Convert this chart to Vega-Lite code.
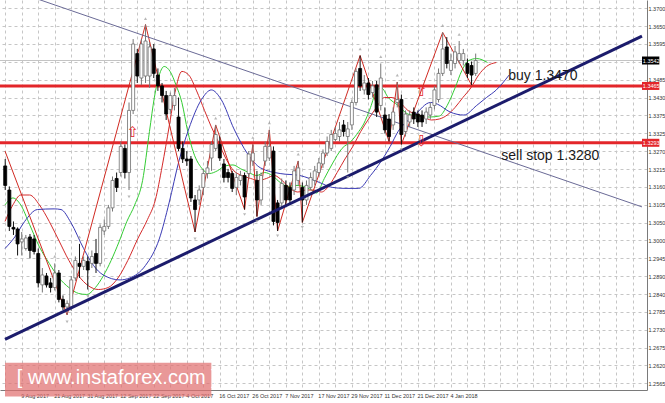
{
  "$schema": "https://vega.github.io/schema/vega-lite/v6.json",
  "width": 647,
  "height": 390,
  "autosize": {"type": "none"},
  "padding": {"left": 0, "top": 0, "right": 18, "bottom": 13},
  "background": "#ffffff",
  "datasets": {
    "bars": [
      {"i": -4, "o": 1.3223, "h": 1.3244, "l": 1.3150, "c": 1.3164},
      {"i": -3, "o": 1.3150, "h": 1.3161, "l": 1.3026, "c": 1.3040},
      {"i": -2, "o": 1.3037, "h": 1.3055, "l": 1.3014, "c": 1.3032},
      {"i": -1, "o": 1.3032, "h": 1.3037, "l": 1.2952, "c": 1.2987},
      {"i": 0, "o": 1.2993, "h": 1.3023, "l": 1.2952, "c": 1.3002},
      {"i": 1, "o": 1.2973, "h": 1.3014, "l": 1.2967, "c": 1.3005},
      {"i": 2, "o": 1.3008, "h": 1.3017, "l": 1.2943, "c": 1.2967},
      {"i": 3, "o": 1.3002, "h": 1.3014, "l": 1.2955, "c": 1.2964},
      {"i": 4, "o": 1.2958, "h": 1.2973, "l": 1.2855, "c": 1.2869},
      {"i": 5, "o": 1.2863, "h": 1.2914, "l": 1.2840, "c": 1.2893},
      {"i": 6, "o": 1.2890, "h": 1.2899, "l": 1.2855, "c": 1.2863},
      {"i": 7, "o": 1.2869, "h": 1.2884, "l": 1.2840, "c": 1.2855},
      {"i": 8, "o": 1.2855, "h": 1.2928, "l": 1.2846, "c": 1.2899},
      {"i": 9, "o": 1.2899, "h": 1.2908, "l": 1.2810, "c": 1.2819},
      {"i": 10, "o": 1.2819, "h": 1.2831, "l": 1.2787, "c": 1.2796},
      {"i": 11, "o": 1.2796, "h": 1.2816, "l": 1.2772, "c": 1.2807},
      {"i": 12, "o": 1.2796, "h": 1.2890, "l": 1.2784, "c": 1.2878},
      {"i": 13, "o": 1.2884, "h": 1.2949, "l": 1.2875, "c": 1.2937},
      {"i": 14, "o": 1.2928, "h": 1.2987, "l": 1.2884, "c": 1.2919},
      {"i": 15, "o": 1.2919, "h": 1.2949, "l": 1.2908, "c": 1.2937},
      {"i": 16, "o": 1.2934, "h": 1.2949, "l": 1.2849, "c": 1.2908},
      {"i": 17, "o": 1.2928, "h": 1.2967, "l": 1.2914, "c": 1.2949},
      {"i": 18, "o": 1.2958, "h": 1.3002, "l": 1.2899, "c": 1.2928},
      {"i": 19, "o": 1.2928, "h": 1.3046, "l": 1.2919, "c": 1.3037},
      {"i": 20, "o": 1.3026, "h": 1.3061, "l": 1.3014, "c": 1.3040},
      {"i": 21, "o": 1.3040, "h": 1.3105, "l": 1.3032, "c": 1.3096},
      {"i": 22, "o": 1.3096, "h": 1.3191, "l": 1.3085, "c": 1.3179},
      {"i": 23, "o": 1.3185, "h": 1.3203, "l": 1.3144, "c": 1.3158},
      {"i": 24, "o": 1.3203, "h": 1.3297, "l": 1.3191, "c": 1.3282},
      {"i": 25, "o": 1.3276, "h": 1.3288, "l": 1.3185, "c": 1.3203},
      {"i": 26, "o": 1.3203, "h": 1.3415, "l": 1.3150, "c": 1.3391},
      {"i": 27, "o": 1.3391, "h": 1.3607, "l": 1.3380, "c": 1.3592},
      {"i": 28, "o": 1.3563, "h": 1.3577, "l": 1.3474, "c": 1.3495},
      {"i": 29, "o": 1.3489, "h": 1.3607, "l": 1.3468, "c": 1.3592},
      {"i": 30, "o": 1.3495, "h": 1.3651, "l": 1.3474, "c": 1.3601},
      {"i": 31, "o": 1.3495, "h": 1.3598, "l": 1.3459, "c": 1.3583},
      {"i": 32, "o": 1.3577, "h": 1.3592, "l": 1.3489, "c": 1.3503},
      {"i": 33, "o": 1.3498, "h": 1.3518, "l": 1.3450, "c": 1.3465},
      {"i": 34, "o": 1.3465, "h": 1.3474, "l": 1.3415, "c": 1.3436},
      {"i": 35, "o": 1.3436, "h": 1.3450, "l": 1.3362, "c": 1.3380},
      {"i": 36, "o": 1.3394, "h": 1.3445, "l": 1.3380, "c": 1.3436},
      {"i": 37, "o": 1.3406, "h": 1.3459, "l": 1.3391, "c": 1.3436},
      {"i": 38, "o": 1.3371, "h": 1.3430, "l": 1.3268, "c": 1.3276},
      {"i": 39, "o": 1.3276, "h": 1.3297, "l": 1.3232, "c": 1.3244},
      {"i": 40, "o": 1.3244, "h": 1.3268, "l": 1.3223, "c": 1.3238},
      {"i": 41, "o": 1.3244, "h": 1.3253, "l": 1.3114, "c": 1.3126},
      {"i": 42, "o": 1.3120, "h": 1.3135, "l": 1.3023, "c": 1.3091},
      {"i": 43, "o": 1.3120, "h": 1.3164, "l": 1.3105, "c": 1.3150},
      {"i": 44, "o": 1.3158, "h": 1.3214, "l": 1.3135, "c": 1.3200},
      {"i": 45, "o": 1.3200, "h": 1.3238, "l": 1.3185, "c": 1.3217},
      {"i": 46, "o": 1.3247, "h": 1.3297, "l": 1.3208, "c": 1.3288},
      {"i": 47, "o": 1.3276, "h": 1.3347, "l": 1.3268, "c": 1.3318},
      {"i": 48, "o": 1.3288, "h": 1.3312, "l": 1.3238, "c": 1.3247},
      {"i": 49, "o": 1.3229, "h": 1.3244, "l": 1.3173, "c": 1.3188},
      {"i": 50, "o": 1.3203, "h": 1.3214, "l": 1.3173, "c": 1.3188},
      {"i": 51, "o": 1.3200, "h": 1.3208, "l": 1.3144, "c": 1.3155},
      {"i": 52, "o": 1.3158, "h": 1.3203, "l": 1.3135, "c": 1.3188},
      {"i": 53, "o": 1.3179, "h": 1.3208, "l": 1.3164, "c": 1.3194},
      {"i": 54, "o": 1.3194, "h": 1.3203, "l": 1.3091, "c": 1.3129},
      {"i": 55, "o": 1.3200, "h": 1.3268, "l": 1.3185, "c": 1.3259},
      {"i": 56, "o": 1.3238, "h": 1.3288, "l": 1.3223, "c": 1.3262},
      {"i": 57, "o": 1.3179, "h": 1.3208, "l": 1.3070, "c": 1.3120},
      {"i": 58, "o": 1.3120, "h": 1.3203, "l": 1.3105, "c": 1.3194},
      {"i": 59, "o": 1.3238, "h": 1.3297, "l": 1.3223, "c": 1.3282},
      {"i": 60, "o": 1.3247, "h": 1.3332, "l": 1.3238, "c": 1.3282},
      {"i": 61, "o": 1.3268, "h": 1.3282, "l": 1.3043, "c": 1.3055},
      {"i": 62, "o": 1.3111, "h": 1.3120, "l": 1.3026, "c": 1.3052},
      {"i": 63, "o": 1.3111, "h": 1.3185, "l": 1.3096, "c": 1.3170},
      {"i": 64, "o": 1.3164, "h": 1.3179, "l": 1.3105, "c": 1.3120},
      {"i": 65, "o": 1.3158, "h": 1.3173, "l": 1.3105, "c": 1.3120},
      {"i": 66, "o": 1.3150, "h": 1.3223, "l": 1.3135, "c": 1.3208},
      {"i": 67, "o": 1.3179, "h": 1.3238, "l": 1.3164, "c": 1.3217},
      {"i": 68, "o": 1.3158, "h": 1.3173, "l": 1.3052, "c": 1.3120},
      {"i": 69, "o": 1.3120, "h": 1.3179, "l": 1.3105, "c": 1.3164},
      {"i": 70, "o": 1.3158, "h": 1.3203, "l": 1.3150, "c": 1.3188},
      {"i": 71, "o": 1.3179, "h": 1.3223, "l": 1.3164, "c": 1.3208},
      {"i": 72, "o": 1.3203, "h": 1.3247, "l": 1.3194, "c": 1.3232},
      {"i": 73, "o": 1.3229, "h": 1.3273, "l": 1.3217, "c": 1.3262},
      {"i": 74, "o": 1.3262, "h": 1.3312, "l": 1.3253, "c": 1.3297},
      {"i": 75, "o": 1.3276, "h": 1.3332, "l": 1.3268, "c": 1.3318},
      {"i": 76, "o": 1.3303, "h": 1.3341, "l": 1.3297, "c": 1.3321},
      {"i": 77, "o": 1.3312, "h": 1.3356, "l": 1.3297, "c": 1.3332},
      {"i": 78, "o": 1.3347, "h": 1.3362, "l": 1.3312, "c": 1.3327},
      {"i": 79, "o": 1.3312, "h": 1.3356, "l": 1.3203, "c": 1.3335},
      {"i": 80, "o": 1.3347, "h": 1.3424, "l": 1.3332, "c": 1.3415},
      {"i": 81, "o": 1.3415, "h": 1.3518, "l": 1.3406, "c": 1.3509},
      {"i": 82, "o": 1.3518, "h": 1.3557, "l": 1.3450, "c": 1.3465},
      {"i": 83, "o": 1.3453, "h": 1.3498, "l": 1.3439, "c": 1.3474},
      {"i": 84, "o": 1.3474, "h": 1.3489, "l": 1.3424, "c": 1.3439},
      {"i": 85, "o": 1.3445, "h": 1.3480, "l": 1.3430, "c": 1.3465},
      {"i": 86, "o": 1.3468, "h": 1.3480, "l": 1.3371, "c": 1.3386},
      {"i": 87, "o": 1.3406, "h": 1.3533, "l": 1.3391, "c": 1.3489},
      {"i": 88, "o": 1.3377, "h": 1.3400, "l": 1.3321, "c": 1.3332},
      {"i": 89, "o": 1.3365, "h": 1.3380, "l": 1.3297, "c": 1.3312},
      {"i": 90, "o": 1.3347, "h": 1.3400, "l": 1.3332, "c": 1.3386},
      {"i": 91, "o": 1.3415, "h": 1.3477, "l": 1.3400, "c": 1.3424},
      {"i": 92, "o": 1.3424, "h": 1.3439, "l": 1.3288, "c": 1.3318},
      {"i": 93, "o": 1.3327, "h": 1.3391, "l": 1.3312, "c": 1.3380},
      {"i": 94, "o": 1.3356, "h": 1.3391, "l": 1.3341, "c": 1.3377},
      {"i": 95, "o": 1.3386, "h": 1.3400, "l": 1.3350, "c": 1.3365},
      {"i": 96, "o": 1.3380, "h": 1.3391, "l": 1.3341, "c": 1.3356},
      {"i": 97, "o": 1.3377, "h": 1.3391, "l": 1.3341, "c": 1.3356},
      {"i": 98, "o": 1.3365, "h": 1.3400, "l": 1.3350, "c": 1.3386},
      {"i": 99, "o": 1.3377, "h": 1.3415, "l": 1.3365, "c": 1.3400},
      {"i": 100, "o": 1.3406, "h": 1.3465, "l": 1.3394, "c": 1.3453},
      {"i": 101, "o": 1.3424, "h": 1.3518, "l": 1.3415, "c": 1.3503},
      {"i": 102, "o": 1.3503, "h": 1.3627, "l": 1.3495, "c": 1.3577},
      {"i": 103, "o": 1.3583, "h": 1.3613, "l": 1.3518, "c": 1.3533},
      {"i": 104, "o": 1.3512, "h": 1.3563, "l": 1.3498, "c": 1.3542},
      {"i": 105, "o": 1.3533, "h": 1.3586, "l": 1.3518, "c": 1.3568},
      {"i": 106, "o": 1.3542, "h": 1.3601, "l": 1.3533, "c": 1.3563},
      {"i": 107, "o": 1.3542, "h": 1.3577, "l": 1.3527, "c": 1.3563},
      {"i": 108, "o": 1.3533, "h": 1.3548, "l": 1.3489, "c": 1.3503},
      {"i": 109, "o": 1.3527, "h": 1.3539, "l": 1.3468, "c": 1.3498},
      {"i": 110, "o": 1.3503, "h": 1.3563, "l": 1.3495, "c": 1.3542}
    ],
    "ind": [
      {"line": "lips", "i": -4.05, "p": 1.3105}, {"line": "lips", "i": -2.14, "p": 1.3126}, {"line": "lips", "i": -0.24, "p": 1.3105},
      {"line": "lips", "i": 1.9, "p": 1.3046}, {"line": "lips", "i": 4.29, "p": 1.2978}, {"line": "lips", "i": 6.67, "p": 1.2928},
      {"line": "lips", "i": 9.05, "p": 1.2884}, {"line": "lips", "i": 11.43, "p": 1.2855}, {"line": "lips", "i": 13.81, "p": 1.2837},
      {"line": "lips", "i": 15.71, "p": 1.2834}, {"line": "lips", "i": 17.86, "p": 1.2855}, {"line": "lips", "i": 19.76, "p": 1.289},
      {"line": "lips", "i": 21.67, "p": 1.2937}, {"line": "lips", "i": 23.57, "p": 1.2993}, {"line": "lips", "i": 25.48, "p": 1.3055},
      {"line": "lips", "i": 27.38, "p": 1.3105}, {"line": "lips", "i": 29.29, "p": 1.3179}, {"line": "lips", "i": 30.95, "p": 1.3327},
      {"line": "lips", "i": 32.14, "p": 1.343}, {"line": "lips", "i": 33.33, "p": 1.3498}, {"line": "lips", "i": 34.52, "p": 1.3524},
      {"line": "lips", "i": 35.95, "p": 1.3509}, {"line": "lips", "i": 37.38, "p": 1.3468}, {"line": "lips", "i": 38.81, "p": 1.3415},
      {"line": "lips", "i": 40.24, "p": 1.3327}, {"line": "lips", "i": 41.67, "p": 1.3262}, {"line": "lips", "i": 43.57, "p": 1.3217},
      {"line": "lips", "i": 45.48, "p": 1.32}, {"line": "lips", "i": 47.38, "p": 1.3208}, {"line": "lips", "i": 49.29, "p": 1.3223},
      {"line": "lips", "i": 51.19, "p": 1.3226}, {"line": "lips", "i": 53.1, "p": 1.3214}, {"line": "lips", "i": 55.0, "p": 1.3203},
      {"line": "lips", "i": 56.9, "p": 1.3194}, {"line": "lips", "i": 58.81, "p": 1.3203}, {"line": "lips", "i": 60.71, "p": 1.3194},
      {"line": "lips", "i": 62.62, "p": 1.3173}, {"line": "lips", "i": 64.52, "p": 1.3161}, {"line": "lips", "i": 66.43, "p": 1.3164},
      {"line": "lips", "i": 68.33, "p": 1.3161}, {"line": "lips", "i": 70.24, "p": 1.315}, {"line": "lips", "i": 71.43, "p": 1.3141},
      {"line": "lips", "i": 73.33, "p": 1.3185}, {"line": "lips", "i": 75.24, "p": 1.3229}, {"line": "lips", "i": 77.62, "p": 1.3276},
      {"line": "lips", "i": 79.76, "p": 1.3297}, {"line": "lips", "i": 81.67, "p": 1.3327}, {"line": "lips", "i": 82.86, "p": 1.335},
      {"line": "lips", "i": 84.52, "p": 1.34}, {"line": "lips", "i": 85.95, "p": 1.345}, {"line": "lips", "i": 87.14, "p": 1.3459},
      {"line": "lips", "i": 88.81, "p": 1.343}, {"line": "lips", "i": 91.19, "p": 1.3406}, {"line": "lips", "i": 93.57, "p": 1.338},
      {"line": "lips", "i": 95.95, "p": 1.3374}, {"line": "lips", "i": 98.81, "p": 1.3371}, {"line": "lips", "i": 101.19, "p": 1.3374},
      {"line": "lips", "i": 103.1, "p": 1.3406}, {"line": "lips", "i": 105.0, "p": 1.3459}, {"line": "lips", "i": 106.67, "p": 1.3512},
      {"line": "lips", "i": 108.33, "p": 1.3542}, {"line": "lips", "i": 110.24, "p": 1.3548}, {"line": "lips", "i": 112.86, "p": 1.3536},
      {"line": "teeth", "i": -4.05, "p": 1.3055}, {"line": "teeth", "i": -2.14, "p": 1.3105}, {"line": "teeth", "i": -0.24, "p": 1.3135},
      {"line": "teeth", "i": 1.9, "p": 1.3135}, {"line": "teeth", "i": 4.29, "p": 1.3105}, {"line": "teeth", "i": 6.67, "p": 1.3055},
      {"line": "teeth", "i": 9.05, "p": 1.2996}, {"line": "teeth", "i": 11.43, "p": 1.2937}, {"line": "teeth", "i": 13.81, "p": 1.289},
      {"line": "teeth", "i": 16.19, "p": 1.286}, {"line": "teeth", "i": 18.57, "p": 1.2849}, {"line": "teeth", "i": 20.95, "p": 1.2855},
      {"line": "teeth", "i": 23.33, "p": 1.2884}, {"line": "teeth", "i": 25.71, "p": 1.2937}, {"line": "teeth", "i": 28.1, "p": 1.3002},
      {"line": "teeth", "i": 30.48, "p": 1.3061}, {"line": "teeth", "i": 32.38, "p": 1.312}, {"line": "teeth", "i": 34.05, "p": 1.3223},
      {"line": "teeth", "i": 35.71, "p": 1.3341}, {"line": "teeth", "i": 37.14, "p": 1.3445}, {"line": "teeth", "i": 38.81, "p": 1.3509},
      {"line": "teeth", "i": 40.48, "p": 1.3498}, {"line": "teeth", "i": 42.38, "p": 1.345}, {"line": "teeth", "i": 44.29, "p": 1.3391},
      {"line": "teeth", "i": 45.95, "p": 1.3341}, {"line": "teeth", "i": 47.62, "p": 1.3297}, {"line": "teeth", "i": 49.52, "p": 1.3244},
      {"line": "teeth", "i": 51.43, "p": 1.3208}, {"line": "teeth", "i": 53.33, "p": 1.3194}, {"line": "teeth", "i": 55.48, "p": 1.3185},
      {"line": "teeth", "i": 57.38, "p": 1.3179}, {"line": "teeth", "i": 59.29, "p": 1.3185}, {"line": "teeth", "i": 61.19, "p": 1.3194},
      {"line": "teeth", "i": 63.1, "p": 1.3179}, {"line": "teeth", "i": 65.0, "p": 1.3155}, {"line": "teeth", "i": 66.9, "p": 1.3144},
      {"line": "teeth", "i": 68.81, "p": 1.315}, {"line": "teeth", "i": 70.71, "p": 1.315}, {"line": "teeth", "i": 72.62, "p": 1.3144},
      {"line": "teeth", "i": 74.52, "p": 1.3164}, {"line": "teeth", "i": 76.43, "p": 1.3203}, {"line": "teeth", "i": 78.33, "p": 1.3244},
      {"line": "teeth", "i": 80.24, "p": 1.3282}, {"line": "teeth", "i": 82.14, "p": 1.3327}, {"line": "teeth", "i": 84.05, "p": 1.3365},
      {"line": "teeth", "i": 85.95, "p": 1.34}, {"line": "teeth", "i": 87.86, "p": 1.343}, {"line": "teeth", "i": 89.76, "p": 1.343},
      {"line": "teeth", "i": 91.67, "p": 1.3415}, {"line": "teeth", "i": 93.57, "p": 1.3391}, {"line": "teeth", "i": 95.48, "p": 1.338},
      {"line": "teeth", "i": 97.38, "p": 1.3371}, {"line": "teeth", "i": 99.29, "p": 1.3362}, {"line": "teeth", "i": 101.19, "p": 1.3365},
      {"line": "teeth", "i": 103.1, "p": 1.3377}, {"line": "teeth", "i": 105.0, "p": 1.34}, {"line": "teeth", "i": 106.9, "p": 1.343},
      {"line": "teeth", "i": 108.81, "p": 1.3459}, {"line": "teeth", "i": 110.71, "p": 1.3498}, {"line": "teeth", "i": 112.62, "p": 1.3524},
      {"line": "teeth", "i": 115.0, "p": 1.3536},
      {"line": "jaw", "i": -4.05, "p": 1.2973}, {"line": "jaw", "i": -1.67, "p": 1.3008}, {"line": "jaw", "i": 0.71, "p": 1.3055},
      {"line": "jaw", "i": 3.81, "p": 1.3091}, {"line": "jaw", "i": 7.86, "p": 1.3093}, {"line": "jaw", "i": 9.52, "p": 1.3091},
      {"line": "jaw", "i": 11.9, "p": 1.3052}, {"line": "jaw", "i": 15.0, "p": 1.2973}, {"line": "jaw", "i": 17.38, "p": 1.2922},
      {"line": "jaw", "i": 19.76, "p": 1.2893}, {"line": "jaw", "i": 23.81, "p": 1.2878}, {"line": "jaw", "i": 26.19, "p": 1.2884},
      {"line": "jaw", "i": 30.0, "p": 1.2922}, {"line": "jaw", "i": 33.33, "p": 1.3002}, {"line": "jaw", "i": 35.71, "p": 1.3111},
      {"line": "jaw", "i": 38.1, "p": 1.3238}, {"line": "jaw", "i": 40.48, "p": 1.3335}, {"line": "jaw", "i": 43.57, "p": 1.3424},
      {"line": "jaw", "i": 45.95, "p": 1.3453}, {"line": "jaw", "i": 48.33, "p": 1.3424}, {"line": "jaw", "i": 51.43, "p": 1.3335},
      {"line": "jaw", "i": 54.76, "p": 1.3259}, {"line": "jaw", "i": 57.86, "p": 1.3217}, {"line": "jaw", "i": 62.62, "p": 1.32},
      {"line": "jaw", "i": 67.38, "p": 1.3194}, {"line": "jaw", "i": 72.14, "p": 1.3173}, {"line": "jaw", "i": 75.24, "p": 1.3158},
      {"line": "jaw", "i": 78.33, "p": 1.3155}, {"line": "jaw", "i": 81.67, "p": 1.3155}, {"line": "jaw", "i": 84.52, "p": 1.3194},
      {"line": "jaw", "i": 87.14, "p": 1.3238}, {"line": "jaw", "i": 89.29, "p": 1.3282}, {"line": "jaw", "i": 91.19, "p": 1.3327},
      {"line": "jaw", "i": 95.24, "p": 1.3377}, {"line": "jaw", "i": 99.05, "p": 1.3415}, {"line": "jaw", "i": 100.71, "p": 1.341},
      {"line": "jaw", "i": 103.81, "p": 1.3386}, {"line": "jaw", "i": 107.14, "p": 1.3377}, {"line": "jaw", "i": 110.24, "p": 1.3406},
      {"line": "jaw", "i": 112.62, "p": 1.343}, {"line": "jaw", "i": 115.0, "p": 1.3453}, {"line": "jaw", "i": 118.1, "p": 1.3498}
    ],
    "zigzag": [
      {"i": -4.05, "p": 1.3268}, {"i": 11, "p": 1.2772}, {"i": 30, "p": 1.3651},
      {"i": 42, "p": 1.3023}, {"i": 47, "p": 1.3347}, {"i": 54, "p": 1.3091},
      {"i": 56, "p": 1.3288}, {"i": 57, "p": 1.307}, {"i": 60, "p": 1.3332},
      {"i": 62, "p": 1.3026}, {"i": 67, "p": 1.3238}, {"i": 68, "p": 1.3052},
      {"i": 82, "p": 1.3557}, {"i": 89, "p": 1.3297}, {"i": 91, "p": 1.3477},
      {"i": 92, "p": 1.3288}, {"i": 102, "p": 1.3627}, {"i": 109, "p": 1.3468}
    ],
    "fractals": [
      {"i": 8, "p": 1.2949, "t": "up"}, {"i": 14, "p": 1.3008, "t": "up"}, {"i": 30, "p": 1.3669, "t": "up"},
      {"i": 47, "p": 1.3368, "t": "up"}, {"i": 56, "p": 1.3309, "t": "up"}, {"i": 60, "p": 1.3353, "t": "up"},
      {"i": 67, "p": 1.3259, "t": "up"}, {"i": 82, "p": 1.3577, "t": "up"}, {"i": 87, "p": 1.3554, "t": "up"},
      {"i": 91, "p": 1.3498, "t": "up"}, {"i": 102, "p": 1.3648, "t": "up"}, {"i": 106, "p": 1.3621, "t": "up"},
      {"i": 11, "p": 1.2751, "t": "down"}, {"i": 16, "p": 1.2828, "t": "down"}, {"i": 26, "p": 1.3129, "t": "down"},
      {"i": 42, "p": 1.3002, "t": "down"}, {"i": 54, "p": 1.3076, "t": "down"}, {"i": 57, "p": 1.3055, "t": "down"},
      {"i": 62, "p": 1.3011, "t": "down"}, {"i": 68, "p": 1.3037, "t": "down"}, {"i": 79, "p": 1.3188, "t": "down"},
      {"i": 92, "p": 1.3273, "t": "down"}
    ],
    "uptrend": [{"i": -4.05, "p": 1.2698}, {"i": 150.3, "p": 1.3616}],
    "downtrend": [{"i": -4.05, "p": 1.3762}, {"i": 150.3, "p": 1.3099}],
    "levels": [{"name": "buy", "p": 1.3465}, {"name": "sell stop", "p": 1.3293}],
    "separators": [{"i": 17}, {"i": 38}, {"i": 60}, {"i": 82}, {"i": 102}, {"i": 130}],
    "notes": [
      {"i": 117.9, "p": 1.3495, "text": "buy 1.3470"},
      {"i": 116.2, "p": 1.3253, "text": "sell stop 1.3280"}
    ],
    "arrows": [
      {"i": 26.9, "p": 1.3327, "text": "⇧"},
      {"i": 96.9, "p": 1.3450, "text": "⇧"},
      {"i": 96.9, "p": 1.3297, "text": "⇩"}
    ],
    "boxes": [
      {"kind": "bid", "p": 1.3542, "text": "1.3542"},
      {"kind": "level", "p": 1.3465, "text": "1.3465"},
      {"kind": "level", "p": 1.3293, "text": "1.3293"}
    ],
    "watermark": [{"text": "[ www.instaforex.com ]"}]
  },
  "layer": [
    {
      "data": {"name": "separators"},
      "mark": {"type": "rule", "color": "#555555", "strokeWidth": 1, "strokeDash": [2, 2]},
      "encoding": {
        "x": {
          "field": "i", "type": "quantitative", "title": null,
          "scale": {"domain": [-4.05, 150.3], "nice": false, "zero": false},
          "axis": {
            "orient": "bottom",
            "tickCount": 500,
            "values": [-4, 0, 4, 8, 12, 16, 20, 24, 28, 32, 36, 40, 44, 48, 52, 56, 60, 64, 68, 72, 76, 80, 84, 88, 92, 96, 100, 104, 108, 112, 116, 120, 124, 128, 132, 136, 140, 144, 148],
            "labelExpr": "datum.value >= 0 && datum.value <= 104 && datum.value % 8 == 0 ? ['9 Aug 2017','21 Aug 2017','31 Aug 2017','12 Sep 2017','22 Sep 2017','4 Oct 2017','16 Oct 2017','26 Oct 2017','7 Nov 2017','17 Nov 2017','29 Nov 2017','11 Dec 2017','21 Dec 2017','4 Jan 2018'][datum.value / 8] : ''",
            "labelFontSize": 5.5,
            "labelAlign": "left", "labelBaseline": "top", "labelPadding": 3, "labelOffset": -1, "labelOverlap": false, "labelFlush": false
          }
        },
        "y": {
          "datum": 1.3, "type": "quantitative", "title": null,
          "scale": {"domain": [1.256, 1.371], "nice": false, "zero": false},
          "axis": {
            "orient": "right",
            "tickCount": 500,
            "values": [1.2565, 1.26191, 1.26731, 1.27272, 1.27812, 1.28353, 1.28893, 1.29434, 1.29974, 1.30515, 1.31055, 1.31596, 1.32136, 1.32677, 1.33217, 1.33758, 1.34298, 1.34839, 1.35379, 1.3592, 1.3646, 1.37001],
            "labelExpr": "['1.2565','1.2620','1.2675','1.2730','1.2785','1.2840','1.2890','1.2945','1.3000','1.3050','1.3105','1.3160','1.3215','1.3270','1.3325','1.3375','1.3430','1.3485','','1.3595','1.3650','1.3700'][round((datum.value - 1.2565) / 0.005405)]",
            "labelFontSize": 5.5,
            "labelAlign": "left", "labelBaseline": "middle", "labelPadding": 1, "labelOverlap": false, "labelFlush": false
          }
        },
        "y2": {"datum": 1.3}
      }
    },
    {
      "data": {"name": "levels"},
      "mark": {"type": "rule", "color": "#e3262a", "strokeWidth": 3},
      "encoding": {
        "y": {"field": "p", "type": "quantitative", "title": null, "axis": {"orient": "right"}}
      }
    },
    {
      "data": {"name": "boxes"},
      "transform": [{"filter": "datum.kind == 'bid'"}],
      "mark": {"type": "rule", "color": "#c4c4c4", "strokeWidth": 1},
      "encoding": {"y": {"field": "p", "type": "quantitative", "title": null, "axis": {"orient": "right"}}}
    },
    {
      "data": {"name": "ind"},
      "mark": {"type": "line", "strokeWidth": 1, "clip": true, "interpolate": "monotone"},
      "encoding": {
        "x": {"field": "i", "type": "quantitative", "title": null, "axis": {"orient": "bottom"}},
        "y": {"field": "p", "type": "quantitative", "title": null, "axis": {"orient": "right"}},
        "stroke": {
          "field": "line", "type": "nominal", "legend": null,
          "scale": {"domain": ["jaw", "teeth", "lips"], "range": ["#3a3ab4", "#d42a2a", "#33cc33"]}
        }
      }
    },
    {
      "data": {"name": "zigzag"},
      "mark": {"type": "line", "color": "#d02a22", "strokeWidth": 1, "clip": true},
      "encoding": {
        "x": {"field": "i", "type": "quantitative", "title": null, "axis": {"orient": "bottom"}},
        "y": {"field": "p", "type": "quantitative", "title": null, "axis": {"orient": "right"}}
      }
    },
    {
      "data": {"name": "downtrend"},
      "mark": {"type": "line", "color": "#6a6a96", "strokeWidth": 1, "clip": true},
      "encoding": {
        "x": {"field": "i", "type": "quantitative", "title": null, "axis": {"orient": "bottom"}},
        "y": {"field": "p", "type": "quantitative", "title": null, "axis": {"orient": "right"}}
      }
    },
    {
      "data": {"name": "bars"},
      "mark": {"type": "rule", "strokeWidth": 1, "clip": true},
      "encoding": {
        "x": {"field": "i", "type": "quantitative", "title": null, "axis": {"orient": "bottom"}},
        "y": {"field": "l", "type": "quantitative", "title": null, "axis": {"orient": "right"}},
        "y2": {"field": "h"},
        "color": {"condition": {"test": "datum.c < datum.o", "value": "#111111"}, "value": "#777777"}
      }
    },
    {
      "data": {"name": "bars"},
      "mark": {"type": "bar", "width": 3, "strokeWidth": 0.8, "clip": true},
      "encoding": {
        "x": {"field": "i", "type": "quantitative", "title": null, "axis": {"orient": "bottom"}},
        "y": {"field": "o", "type": "quantitative", "title": null, "axis": {"orient": "right"}},
        "y2": {"field": "c"},
        "fill": {"condition": {"test": "datum.c < datum.o", "value": "#000000"}, "value": "#ffffff"},
        "stroke": {"condition": {"test": "datum.c < datum.o", "value": "#000000"}, "value": "#6e6e6e"}
      }
    },
    {
      "data": {"name": "uptrend"},
      "mark": {"type": "line", "color": "#1c1c6c", "strokeWidth": 3, "clip": true},
      "encoding": {
        "x": {"field": "i", "type": "quantitative", "title": null, "axis": {"orient": "bottom"}},
        "y": {"field": "p", "type": "quantitative", "title": null, "axis": {"orient": "right"}}
      }
    },
    {
      "data": {"name": "fractals"},
      "mark": {"type": "point", "filled": true, "size": 10, "color": "#9a9a9a"},
      "encoding": {
        "x": {"field": "i", "type": "quantitative", "title": null, "axis": {"orient": "bottom"}},
        "y": {"field": "p", "type": "quantitative", "title": null, "axis": {"orient": "right"}},
        "shape": {"field": "t", "type": "nominal", "legend": null, "scale": {"domain": ["up", "down"], "range": ["triangle-up", "triangle-down"]}}
      }
    },
    {
      "data": {"name": "arrows"},
      "mark": {"type": "text", "color": "#e3262a", "fontSize": 15, "font": "DejaVu Sans", "align": "center", "baseline": "middle"},
      "encoding": {
        "x": {"field": "i", "type": "quantitative", "title": null, "axis": {"orient": "bottom"}},
        "y": {"field": "p", "type": "quantitative", "title": null, "axis": {"orient": "right"}},
        "text": {"field": "text"}
      }
    },
    {
      "data": {"name": "notes"},
      "mark": {"type": "text", "color": "#1a1a1a", "fontSize": 14, "font": "Liberation Sans", "align": "left", "baseline": "middle"},
      "encoding": {
        "x": {"field": "i", "type": "quantitative", "title": null, "axis": {"orient": "bottom"}},
        "y": {"field": "p", "type": "quantitative", "title": null, "axis": {"orient": "right"}},
        "text": {"field": "text"}
      }
    },
    {
      "data": {"name": "watermark"},
      "mark": {"type": "rect", "color": "#e07070", "opacity": 0.72},
      "encoding": {
        "x": {"datum": -4.05, "type": "quantitative", "title": null, "axis": {"orient": "bottom"}},
        "x2": {"datum": 45.95},
        "y": {"datum": 1.2627, "type": "quantitative", "title": null, "axis": {"orient": "right"}},
        "y2": {"datum": 1.2525}
      }
    },
    {
      "data": {"name": "watermark"},
      "mark": {"type": "text", "color": "#ffffff", "fontSize": 20, "font": "Liberation Sans", "align": "left", "baseline": "middle"},
      "encoding": {
        "x": {"datum": -1.2, "type": "quantitative", "title": null, "axis": {"orient": "bottom"}},
        "y": {"datum": 1.2582, "type": "quantitative", "title": null, "axis": {"orient": "right"}},
        "text": {"field": "text"}
      }
    },
    {
      "data": {"name": "boxes"},
      "mark": {"type": "bar", "height": 8},
      "encoding": {
        "x": {"datum": 150.3, "type": "quantitative", "title": null, "axis": {"orient": "bottom"}},
        "x2": {"datum": 154.5},
        "y": {"field": "p", "type": "quantitative", "title": null, "axis": {"orient": "right"}},
        "fill": {"condition": {"test": "datum.kind == 'bid'", "value": "#000000"}, "value": "#e3262a"}
      }
    },
    {
      "data": {"name": "boxes"},
      "mark": {"type": "text", "color": "#ffffff", "fontSize": 5.5, "font": "Liberation Sans", "align": "left", "baseline": "middle"},
      "encoding": {
        "x": {"datum": 150.5, "type": "quantitative", "title": null, "axis": {"orient": "bottom"}},
        "y": {"field": "p", "type": "quantitative", "title": null, "axis": {"orient": "right"}},
        "text": {"field": "text"}
      }
    }
  ],
  "config": {
    "view": {"stroke": null},
    "axis": {
      "grid": true,
      "gridColor": "#c6c6c6",
      "gridDash": [3, 3],
      "gridWidth": 1,
      "domainColor": "#7a7a7a",
      "domainWidth": 1,
      "ticks": false,
      "labelFont": "Liberation Sans",
      "labelColor": "#333333"
    }
  }
}
